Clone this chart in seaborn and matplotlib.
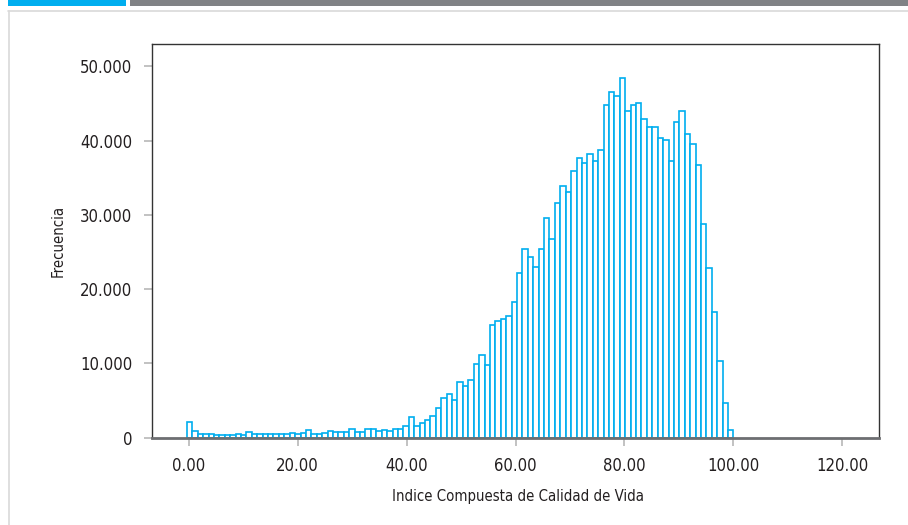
import numpy as np
import pandas as pd
import seaborn as sns
import matplotlib.pyplot as plt
from matplotlib.patches import Rectangle
from matplotlib.ticker import FuncFormatter

# frequency per bin (101 bins, 0 -> 100)
frecuencia = [
    2070, 940, 540, 540, 540, 310, 310, 360, 310, 540,
    400, 720, 490, 490, 490, 490, 490, 490, 490, 580,
    450, 580, 990, 450, 450, 580, 940, 720, 720, 720,
    1210, 720, 720, 1120, 1210, 850, 990, 850, 1120, 1120,
    1570, 2830, 1620, 1930, 2340, 2880, 4000, 5300, 5840, 5080,
    7460, 7010, 7770, 9880, 11100, 9790, 15180, 15680, 15990, 16350,
    18330, 22110, 25340, 24350, 22960, 25340, 29550, 26770, 31610, 33950,
    33140, 35870, 37670, 37040, 38250, 37260, 38700, 44750, 46500, 46050,
    48470, 43990, 44750, 45110, 42910, 41880, 41880, 40400, 40040, 37220,
    42510, 43990, 40940, 39510, 36680, 28830, 22910, 16860, 10310, 4620,
    1030,
]
x_ticks = [0, 20, 40, 60, 80, 100, 120]
y_ticks = [0, 10000, 20000, 30000, 40000, 50000]

edges = np.linspace(-0.3, 100.0, len(frecuencia) + 1)
centros = (edges[:-1] + edges[1:]) / 2
df = pd.DataFrame({"indice": centros, "frecuencia": frecuencia})

sns.set_style("white")
plt.rcParams["font.family"] = ["DejaVu Sans"]
plt.rcParams["font.stretch"] = "condensed"

W, H = 908, 525
fig = plt.figure(figsize=(W / 100, H / 100), dpi=100)
ax = fig.add_axes([152 / W, 1 - 437.7 / H, (879 - 152) / W, (437.7 - 44) / H])

sns.histplot(data=df, x="indice", weights="frecuencia", bins=list(edges),
             facecolor="white", edgecolor="#00aeef", linewidth=1.2, ax=ax)

ax.set_xlim(-6.7, 126.7)
ax.set_ylim(0, 53000)
ax.set_xticks(x_ticks)
ax.set_yticks(y_ticks)
ax.xaxis.set_major_formatter(FuncFormatter(lambda v, p: f"{v:.2f}"))
ax.yaxis.set_major_formatter(FuncFormatter(lambda v, p: f"{int(v):,}".replace(",", ".")))

ax.tick_params(axis="both", which="both", direction="out", length=6, width=1.2,
               color="#b8b8b8", labelsize=12, labelcolor="#231f20", pad=8)
ax.tick_params(axis="y", left=True)
ax.tick_params(axis="x", bottom=True)

for side in ["left", "top", "right"]:
    ax.spines[side].set_color("#333333")
    ax.spines[side].set_linewidth(1.0)
ax.spines["bottom"].set_color("#6d6e71")
ax.spines["bottom"].set_linewidth(2.0)

ax.set_xlabel("Indice Compuesta de Calidad de Vida", fontsize=10.7, color="#231f20", va="center")
ax.set_ylabel("Frecuencia", fontsize=10.7, color="#231f20", va="center")
ax.xaxis.set_label_coords(0.5034, -0.150)
ax.yaxis.set_label_coords(-0.129, 0.5)

# page header decoration and frame
fig.add_artist(Rectangle((8 / W, 1 - 6 / H), 118 / W, 6 / H, transform=fig.transFigure,
                         color="#00aeef", lw=0))
fig.add_artist(Rectangle((130 / W, 1 - 6 / H), (W - 130) / W, 6 / H, transform=fig.transFigure,
                         color="#808285", lw=0))
fig.add_artist(plt.Line2D([8 / W, 1], [1 - 10.5 / H, 1 - 10.5 / H], transform=fig.transFigure,
                          color="#d9d9d9", lw=1.2))
fig.add_artist(plt.Line2D([8.5 / W, 8.5 / W], [0, 1 - 10.5 / H], transform=fig.transFigure,
                          color="#d9d9d9", lw=1.2))

fig.savefig("out.png", dpi=100)
